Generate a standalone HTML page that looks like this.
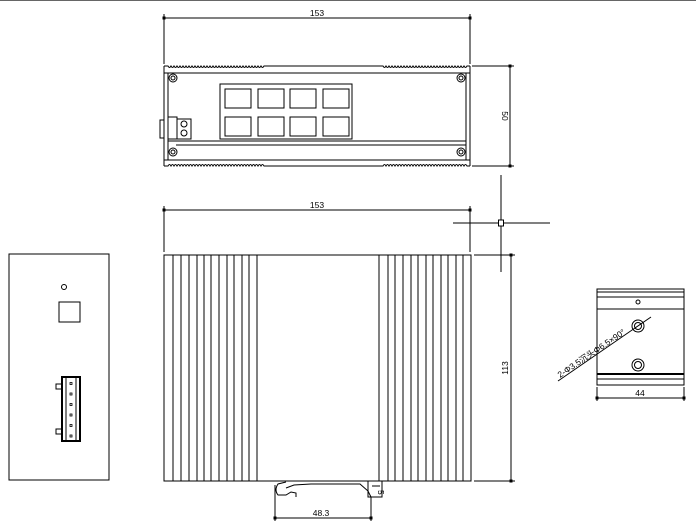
<!DOCTYPE html>
<html><head><meta charset="utf-8"><style>
body{margin:0;background:#fff}
svg{display:block}
text{font-family:"Liberation Sans",sans-serif;font-size:8.5px;fill:#000}
</style></head><body>
<svg width="696" height="531" viewBox="0 0 696 531" xmlns="http://www.w3.org/2000/svg">
<defs>
<marker id="dt" viewBox="0 0 4 4" refX="2" refY="2" markerWidth="3" markerHeight="3"><rect width="4" height="4" fill="#000"/></marker>
</defs>
<line x1="0" y1="0.5" x2="696" y2="0.5" stroke="#666" stroke-width="1"/>
<g stroke="#000" stroke-width="1" fill="none">
<line x1="164" y1="14" x2="164" y2="64"/><line x1="470" y1="14" x2="470" y2="64"/>
<line x1="164" y1="18" x2="470" y2="18" marker-start="url(#dt)" marker-end="url(#dt)"/>
<!-- top view -->
<path d="M164,66 L164,166 M470,66 L470,166"/>
<path d="M164,66 L168,66 q1.5,3 3,0 q1.5,3 3,0 q1.5,3 3,0 q1.5,3 3,0 q1.5,3 3,0 q1.5,3 3,0 q1.5,3 3,0 q1.5,3 3,0 q1.5,3 3,0 q1.5,3 3,0 q1.5,3 3,0 q1.5,3 3,0 q1.5,3 3,0 q1.5,3 3,0 q1.5,3 3,0 q1.5,3 3,0 q1.5,3 3,0 q1.5,3 3,0 q1.5,3 3,0 q1.5,3 3,0 q1.5,3 3,0 q1.5,3 3,0 q1.5,3 3,0 q1.5,3 3,0 q1.5,3 3,0 q1.5,3 3,0 q1.5,3 3,0 q1.5,3 3,0 q1.5,3 3,0 q1.5,3 3,0 q1.5,3 3,0 q1.5,3 3,0 L383,66 q1.5,3 3,0 q1.5,3 3,0 q1.5,3 3,0 q1.5,3 3,0 q1.5,3 3,0 q1.5,3 3,0 q1.5,3 3,0 q1.5,3 3,0 q1.5,3 3,0 q1.5,3 3,0 q1.5,3 3,0 q1.5,3 3,0 q1.5,3 3,0 q1.5,3 3,0 q1.5,3 3,0 q1.5,3 3,0 q1.5,3 3,0 q1.5,3 3,0 q1.5,3 3,0 q1.5,3 3,0 q1.5,3 3,0 q1.5,3 3,0 q1.5,3 3,0 q1.5,3 3,0 q1.5,3 3,0 q1.5,3 3,0 q1.5,3 3,0 q1.5,3 3,0 L470,66"/>
<path d="M164,166 L168,166 q1.5,-3 3,0 q1.5,-3 3,0 q1.5,-3 3,0 q1.5,-3 3,0 q1.5,-3 3,0 q1.5,-3 3,0 q1.5,-3 3,0 q1.5,-3 3,0 q1.5,-3 3,0 q1.5,-3 3,0 q1.5,-3 3,0 q1.5,-3 3,0 q1.5,-3 3,0 q1.5,-3 3,0 q1.5,-3 3,0 q1.5,-3 3,0 q1.5,-3 3,0 q1.5,-3 3,0 q1.5,-3 3,0 q1.5,-3 3,0 q1.5,-3 3,0 q1.5,-3 3,0 q1.5,-3 3,0 q1.5,-3 3,0 q1.5,-3 3,0 q1.5,-3 3,0 q1.5,-3 3,0 q1.5,-3 3,0 q1.5,-3 3,0 q1.5,-3 3,0 q1.5,-3 3,0 q1.5,-3 3,0 L383,166 q1.5,-3 3,0 q1.5,-3 3,0 q1.5,-3 3,0 q1.5,-3 3,0 q1.5,-3 3,0 q1.5,-3 3,0 q1.5,-3 3,0 q1.5,-3 3,0 q1.5,-3 3,0 q1.5,-3 3,0 q1.5,-3 3,0 q1.5,-3 3,0 q1.5,-3 3,0 q1.5,-3 3,0 q1.5,-3 3,0 q1.5,-3 3,0 q1.5,-3 3,0 q1.5,-3 3,0 q1.5,-3 3,0 q1.5,-3 3,0 q1.5,-3 3,0 q1.5,-3 3,0 q1.5,-3 3,0 q1.5,-3 3,0 q1.5,-3 3,0 q1.5,-3 3,0 q1.5,-3 3,0 q1.5,-3 3,0 L470,166"/>
<rect x="164" y="73" width="306" height="87"/>
<rect x="168" y="73" width="298" height="87"/>
<line x1="168" y1="141" x2="466" y2="141"/><line x1="176" y1="145" x2="466" y2="145"/>
<rect x="220" y="84" width="132" height="55"/>
<rect x="160" y="120" width="4" height="18"/>
<rect x="168" y="117" width="9" height="22"/>
<rect x="177" y="119" width="14" height="20"/>
<circle cx="184" cy="124" r="3"/><circle cx="184" cy="133" r="3"/>
<circle cx="173" cy="78" r="4"/><circle cx="173" cy="78" r="2"/>
<circle cx="461" cy="78" r="4"/><circle cx="461" cy="78" r="2"/>
<circle cx="173" cy="152" r="4"/><circle cx="173" cy="152" r="2"/>
<circle cx="461" cy="152" r="4"/><circle cx="461" cy="152" r="2"/>
<rect x="225" y="89" width="26" height="19"/><rect x="258" y="89" width="26" height="19"/><rect x="290" y="89" width="26" height="19"/><rect x="323" y="89" width="26" height="19"/>
<rect x="225" y="117" width="26" height="19"/><rect x="258" y="117" width="26" height="19"/><rect x="290" y="117" width="26" height="19"/><rect x="323" y="117" width="26" height="19"/>
<line x1="472" y1="66" x2="514" y2="66"/><line x1="472" y1="166" x2="514" y2="166"/>
<line x1="510" y1="66" x2="510" y2="166" marker-start="url(#dt)" marker-end="url(#dt)"/>
<line x1="164" y1="206" x2="164" y2="252"/><line x1="470" y1="206" x2="470" y2="252"/>
<line x1="164" y1="210" x2="470" y2="210" marker-start="url(#dt)" marker-end="url(#dt)"/>
<line x1="501" y1="175" x2="501" y2="272"/><line x1="453" y1="223" x2="550" y2="223"/>
<rect x="498.5" y="220" width="5" height="6" fill="#fff"/>
<!-- front view -->
<rect x="164" y="255" width="307" height="226"/>
<line x1="173" y1="255" x2="173" y2="481"/><line x1="181" y1="255" x2="181" y2="481"/><line x1="189" y1="255" x2="189" y2="481"/><line x1="197" y1="255" x2="197" y2="481"/><line x1="204" y1="255" x2="204" y2="481"/><line x1="211" y1="255" x2="211" y2="481"/><line x1="219" y1="255" x2="219" y2="481"/><line x1="227" y1="255" x2="227" y2="481"/><line x1="234" y1="255" x2="234" y2="481"/><line x1="242" y1="255" x2="242" y2="481"/><line x1="249" y1="255" x2="249" y2="481"/><line x1="257" y1="255" x2="257" y2="481"/>
<line x1="379" y1="255" x2="379" y2="481"/><line x1="388" y1="255" x2="388" y2="481"/><line x1="395" y1="255" x2="395" y2="481"/><line x1="403" y1="255" x2="403" y2="481"/><line x1="411" y1="255" x2="411" y2="481"/><line x1="418" y1="255" x2="418" y2="481"/><line x1="426" y1="255" x2="426" y2="481"/><line x1="433" y1="255" x2="433" y2="481"/><line x1="441" y1="255" x2="441" y2="481"/><line x1="448" y1="255" x2="448" y2="481"/><line x1="456" y1="255" x2="456" y2="481"/><line x1="463" y1="255" x2="463" y2="481"/>
<line x1="474" y1="255" x2="515" y2="255"/><line x1="474" y1="481" x2="515" y2="481"/>
<line x1="511" y1="255" x2="511" y2="481" marker-start="url(#dt)" marker-end="url(#dt)"/>
<path d="M286,482 L278,484 Q274,490 278,495 L286,495 L291,492 L296,493 L296,497"/>
<path d="M286,488 L294,485 L311,484 L360,484 L368,491 L371,497"/>
<path d="M368,481 L368,497 L382,497 L382,481"/>
<line x1="372" y1="486" x2="380" y2="486"/>
<line x1="275" y1="485" x2="275" y2="521"/><line x1="371" y1="497" x2="371" y2="521"/>
<line x1="275" y1="518" x2="371" y2="518" marker-start="url(#dt)" marker-end="url(#dt)"/>
<!-- left panel -->
<rect x="9" y="254" width="100" height="226"/>
<circle cx="64" cy="287" r="2.5"/>
<rect x="59" y="302" width="21" height="20"/>
<rect x="62" y="377" width="18" height="64" stroke-width="2"/>
<line x1="66" y1="378" x2="66" y2="440"/><line x1="76" y1="378" x2="76" y2="440"/>
<rect x="56" y="384" width="6" height="5"/><rect x="56" y="429" width="6" height="5"/>
<g stroke-width="0.8"><rect x="70" y="382.5" width="2" height="2"/><rect x="70" y="393" width="2" height="2"/><rect x="70" y="403.5" width="2" height="2"/><rect x="70" y="414" width="2" height="2"/><rect x="70" y="424.5" width="2" height="2"/><rect x="70" y="435" width="2" height="2"/></g>
<!-- side view -->
<rect x="597" y="289" width="87" height="96"/>
<line x1="597" y1="292" x2="684" y2="292"/><line x1="597" y1="297" x2="684" y2="297"/><line x1="597" y1="309" x2="684" y2="309"/>
<line x1="597" y1="374" x2="684" y2="374" stroke-width="2"/><line x1="597" y1="379" x2="684" y2="379"/>
<circle cx="638" cy="302" r="2"/>
<circle cx="638" cy="326" r="6"/><circle cx="638" cy="326" r="3.5"/>
<circle cx="638" cy="365" r="6"/><circle cx="638" cy="365" r="3.5"/>
<line x1="558" y1="381" x2="651" y2="317"/>
<line x1="597" y1="387" x2="597" y2="401"/><line x1="684" y1="387" x2="684" y2="401"/>
<line x1="597" y1="398" x2="684" y2="398" marker-start="url(#dt)" marker-end="url(#dt)"/>
</g>
<text x="317" y="16" text-anchor="middle">153</text>
<text x="317" y="208" text-anchor="middle">153</text>
<text transform="translate(502,116) rotate(90)" text-anchor="middle">50</text>
<text transform="translate(508,368) rotate(-90)" text-anchor="middle">113</text>
<text x="321" y="516" text-anchor="middle">48.3</text>
<text x="640" y="396" text-anchor="middle">44</text>
<text transform="translate(378,490) rotate(90)" font-size="6">5</text>
<text transform="translate(560,378) rotate(-34)" font-size="7.5">2-Φ3.5沉头Φ6.5×90°</text>
</svg>
</body></html>
